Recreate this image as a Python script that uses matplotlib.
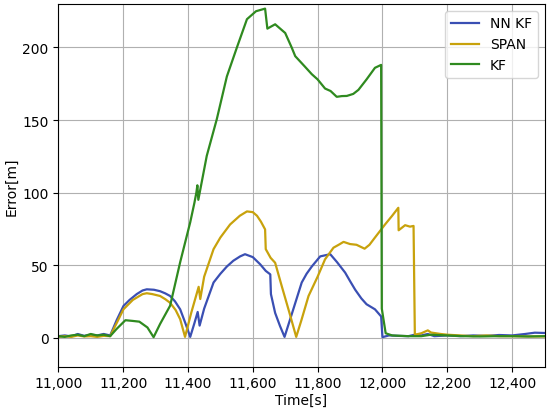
import matplotlib
matplotlib.use("Agg")
import matplotlib.pyplot as plt
from matplotlib.ticker import FuncFormatter

# NN KF error (time [s], error [m])
nnkf_t = [11000, 11020, 11040, 11060, 11080, 11100, 11120, 11140, 11160, 11180, 11201, 11220, 11242,
          11260, 11273, 11295, 11314, 11330, 11345, 11360, 11376, 11392, 11407, 11420, 11430, 11436,
          11450, 11479, 11500, 11520, 11540, 11561, 11576, 11600, 11623, 11640, 11654, 11656, 11669,
          11684, 11698, 11720, 11751, 11766, 11782, 11808, 11839, 11860, 11885, 11900, 11916, 11935,
          11951, 11977, 11996, 12000, 12020, 12050, 12080, 12100, 12120, 12140, 12160, 12200, 12240,
          12280, 12320, 12360, 12400, 12440, 12470, 12500]
nnkf_v = [1.0, 1.5, 0.8, 2.5, 1.2, 2.0, 1.5, 2.5, 1.5, 12.0, 21.8, 26.0, 30.0,
          32.5, 33.3, 33.0, 32.0, 30.5, 28.7, 25.0, 19.5, 10.0, 0.5, 10.0, 17.7, 8.3,
          20.0, 38.0, 44.0, 49.0, 53.0, 56.0, 57.5, 55.5, 50.5, 46.0, 43.6, 30.0, 17.0,
          8.0, 0.5, 16.0, 38.0, 44.0, 49.0, 56.0, 57.5, 52.0, 44.8, 39.0, 33.0, 27.0,
          23.0, 19.5, 14.6, 0.3, 1.5, 1.2, 1.0, 2.0, 1.5, 2.5, 1.0, 1.5, 1.0,
          1.5, 1.2, 1.8, 1.5, 2.5, 3.4, 3.2]

# SPAN error
span_t = [11000, 11020, 11040, 11060, 11080, 11100, 11120, 11140, 11160, 11180, 11201, 11230, 11260,
          11273, 11290, 11314, 11330, 11345, 11362, 11376, 11391, 11410, 11433, 11438, 11450, 11479,
          11500, 11530, 11560, 11582, 11600, 11613, 11625, 11638, 11640, 11655, 11669, 11690, 11712,
          11734, 11750, 11772, 11800, 11823, 11849, 11865, 11880, 11900, 11920, 11945, 11960, 11977,
          12008, 12030, 12049, 12050, 12070, 12085, 12096, 12100, 12120, 12140, 12150, 12180, 12200,
          12240, 12280, 12320, 12360, 12400, 12450, 12500]
span_v = [0.5, 1.0, 0.5, 1.5, 0.8, 1.0, 0.5, 1.2, 1.0, 10.0, 19.5, 26.0, 30.0,
          30.6, 30.0, 28.7, 26.5, 24.0, 19.0, 12.7, 0.5, 17.0, 35.0, 26.6, 42.0, 61.0,
          69.0, 78.0, 84.0, 87.0, 86.5, 84.0, 80.0, 74.6, 61.0, 55.0, 51.6, 35.0, 18.0,
          0.5, 12.0, 28.7, 42.0, 54.0, 62.0, 64.0, 66.0, 64.5, 64.0, 61.3, 64.0, 69.0,
          78.0, 84.0, 89.5, 74.0, 77.5, 76.5, 77.0, 2.0, 3.0, 5.0, 3.5, 2.5, 2.0,
          1.5, 1.0, 1.5, 1.0, 1.0, 0.8, 0.8]

# KF error
kf_t = [11000, 11020, 11040, 11060, 11080, 11100, 11120, 11140, 11160, 11180, 11207, 11230, 11250,
        11275, 11294, 11314, 11345, 11376, 11407, 11420, 11426, 11429, 11432, 11458, 11489, 11520,
        11551, 11582, 11610, 11638, 11645, 11669, 11700, 11720, 11731, 11760, 11782, 11800, 11823,
        11840, 11859, 11875, 11890, 11910, 11926, 11951, 11977, 11996, 11998, 12010, 12030, 12080,
        12120, 12150, 12200, 12250, 12300, 12350, 12400, 12450, 12500]
kf_v = [1.0, 0.5, 1.5, 2.0, 1.0, 2.5, 1.5, 2.0, 1.0, 6.0, 12.0, 11.5, 11.0,
        7.0, 0.3, 9.4, 22.0, 52.0, 79.5, 93.0, 100.0, 105.0, 95.0, 125.3, 150.6, 180.0,
        200.0, 219.5, 225.0, 226.8, 213.0, 216.0, 210.0, 200.0, 194.0, 187.0, 181.6, 178.0, 171.7,
        170.0, 166.0, 166.5, 166.6, 168.0, 170.8, 178.0, 186.0, 188.0, 20.0, 3.0, 1.5, 1.0,
        1.0, 2.0, 1.5, 1.0, 0.8, 1.0, 1.0, 0.8, 1.0]

x_ticks = [11000, 11200, 11400, 11600, 11800, 12000, 12200, 12400]
y_ticks = [0, 50, 100, 150, 200]

fig, ax = plt.subplots(figsize=(5.5, 4.14), dpi=100)
fig.subplots_adjust(left=0.106, right=0.99, top=0.988, bottom=0.112)

ax.plot(nnkf_t, nnkf_v, color="#3a4fb3", lw=1.6, label="NN KF")
ax.plot(span_t, span_v, color="#c8a20c", lw=1.6, label="SPAN")
ax.plot(kf_t, kf_v, color="#2f8a1f", lw=1.6, label="KF")

ax.set_xlim(11000, 12500)
ax.set_ylim(-20, 230)
ax.set_xticks(x_ticks)
ax.set_yticks(y_ticks)
ax.xaxis.set_major_formatter(FuncFormatter(lambda v, p: f"{int(v):,}"))
ax.tick_params(labelsize=10)
ax.grid(True, color="#b0b0b0", lw=0.8)
ax.set_xlabel("Time[s]", fontsize=10, labelpad=2)
ax.set_ylabel("Error[m]", fontsize=10, labelpad=3)
ax.legend(loc="upper right", fontsize=10)

fig.savefig("out.png", dpi=100)
